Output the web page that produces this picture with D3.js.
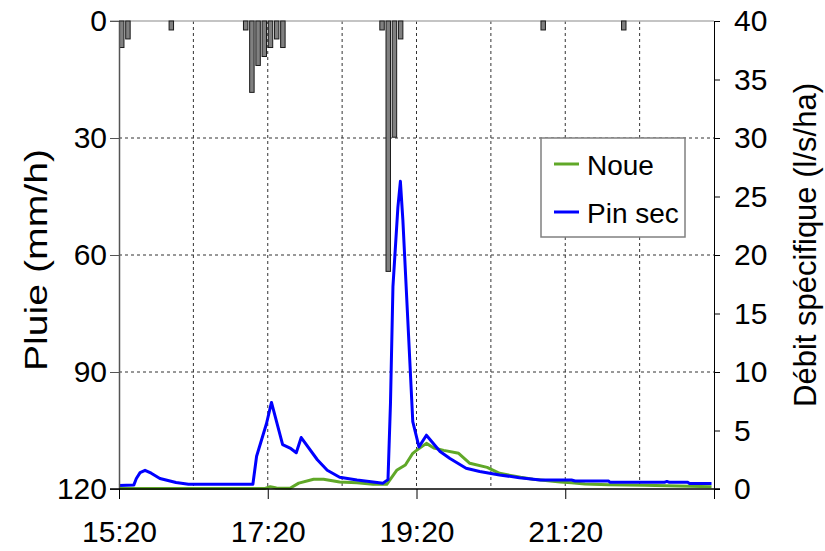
<!DOCTYPE html>
<html>
<head>
<meta charset="utf-8">
<script src="https://cdn.jsdelivr.net/npm/d3@7"></script>
<style>
body { margin: 0; background: #fff; }
text { font-family: "Liberation Sans", Arial, sans-serif; fill: #000; }
</style>
</head>
<body>
<div id="chart"></div>
<script>
// rain, 5 min bins (mm/h)
const rainTimes = ["15:20","15:25","16:00","17:00","17:05","17:10","17:15","17:20","17:25","17:30","18:50","18:55","19:00","19:05","21:00","22:05"];
const rainValues = [6.8,4.6,2.3,2.3,18.3,11.4,9.1,6.8,4.6,6.8,2.3,64.2,29.8,4.6,2.3,2.3];

// specific discharge (l/s/ha)
const noueTimes = ["15:20","17:18","17:22","17:27","17:38","17:45","17:57","18:05","18:18","18:32","18:45","18:56","19:00","19:04","19:11","19:17","19:20","19:28","19:34","19:42","19:54","20:03","20:17","20:27","20:44","20:54","21:16","21:25","21:36","21:55","22:24","23:18"];
const noueValues = [0.05,0.05,0.2,0.08,0.06,0.5,0.83,0.83,0.6,0.54,0.4,0.4,1.0,1.6,2.05,3.05,3.3,3.9,3.5,3.3,3.05,2.2,1.85,1.34,1.0,0.83,0.6,0.54,0.43,0.37,0.32,0.2];

const pinTimes = ["15:20","15:32","15:34","15:37","15:41","15:46","15:53","16:06","16:16","17:08","17:11","17:19","17:23","17:32","17:38","17:43","17:47","18:00","18:08","18:18","18:32","18:45","18:53","18:57","18:59","19:01","19:05","19:07","19:09","19:13","19:17","19:22","19:28","19:39","19:47","20:00","20:11","20:27","20:43","21:00","21:25","21:28","21:55","21:56","22:40","22:42","22:44","22:59","23:00","23:18"];
const pinValues = [0.3,0.35,0.9,1.4,1.6,1.35,0.9,0.55,0.4,0.4,2.8,5.6,7.4,3.8,3.5,3.1,4.4,2.5,1.6,1.0,0.77,0.6,0.5,0.8,7.3,17.3,24.1,26.3,23,14.4,5.75,3.6,4.6,3.2,2.6,1.77,1.5,1.2,0.97,0.77,0.77,0.68,0.68,0.57,0.57,0.65,0.57,0.57,0.48,0.48];

const xTicks = ["15:20","17:20","19:20","21:20","23:20"];
const xTickLabels = ["15:20","17:20","19:20","21:20",""];
const gridHours = ["16:20","17:20","18:20","19:20","20:20","21:20","22:20"];
const rainTicks = [0,30,60,90,120];
const flowTicks = [0,5,10,15,20,25,30,35,40];
const seriesNames = ["Noue","Pin sec"];
const seriesColors = ["#60a828","#0000ff"];

const parse = d3.timeParse("%H:%M");

let svg = d3.select("#chart").append("svg").attr("width", 825).attr("height", 551);

let x = d3.scaleTime().domain([parse("15:20"), parse("23:20")]).range([119, 714]);
let yRain = d3.scaleLinear().domain([0, 120]).range([21, 489]);
let yFlow = d3.scaleLinear().domain([0, 40]).range([489, 21]);

// grid
svg.append("g").selectAll("line").data(gridHours).join("line")
    .attr("x1", d => x(parse(d))).attr("x2", d => x(parse(d)))
    .attr("y1", yRain(0)).attr("y2", yRain(120))
    .style("stroke", "#333").style("stroke-width", 1).style("stroke-dasharray", "3,3");
svg.append("g").selectAll("line").data([30, 60, 90]).join("line")
    .attr("x1", x.range()[0]).attr("x2", x.range()[1])
    .attr("y1", d => yRain(d)).attr("y2", d => yRain(d))
    .style("stroke", "#333").style("stroke-width", 1).style("stroke-dasharray", "3,3");

// top border
svg.append("line").attr("x1", 110).attr("x2", 714).attr("y1", yRain(0)).attr("y2", yRain(0))
    .style("stroke", "#b0b0b0").style("stroke-width", 1.5);

// rain bars
let rain = rainTimes.map((t, i) => [parse(t), rainValues[i]]);
svg.append("g").selectAll("rect").data(rain).join("rect")
    .attr("x", d => x(d[0]) + 0.5)
    .attr("y", yRain(0))
    .attr("width", d => (x(d3.timeMinute.offset(d[0], 5)) - x(d[0])) * 0.72)
    .attr("height", d => yRain(d[1]) - yRain(0))
    .style("fill", "#808080").style("stroke", "#1a1a1a").style("stroke-width", 1);

// flow lines
let line = d3.line().x(d => x(d[0])).y(d => yFlow(d[1]));
let noue = noueTimes.map((t, i) => [parse(t), noueValues[i]]);
let pin = pinTimes.map((t, i) => [parse(t), pinValues[i]]);
[noue, pin].forEach((s, i) => {
    svg.append("path").datum(s)
        .style("fill", "none")
        .style("stroke", seriesColors[i])
        .style("stroke-width", 3)
        .style("stroke-linejoin", "round")
        .attr("d", line);
});

// axes
let leftAxis = d3.axisLeft(yRain).tickValues(rainTicks).tickSize(9).tickSizeOuter(0).tickPadding(4);
let gl = svg.append("g").attr("transform", "translate(119,0)").call(leftAxis);
gl.select(".domain").style("stroke", "#555").style("stroke-width", 1.5);
gl.selectAll(".tick line").style("stroke", "#555");

let rightAxis = d3.axisRight(yFlow).tickValues(flowTicks).tickSize(6).tickSizeOuter(0).tickPadding(14);
let gr = svg.append("g").attr("transform", "translate(714,0)").call(rightAxis);

let bottomAxis = d3.axisBottom(x).tickValues(xTicks.map(parse))
    .tickFormat((d, i) => xTickLabels[i]).tickSize(10).tickSizeOuter(0).tickPadding(22);
let gb = svg.append("g").attr("transform", "translate(0,489)").call(bottomAxis);
gb.select(".domain").attr("d", "M110,0H720").style("stroke-width", 1.5);

svg.selectAll(".tick text").style("font-size", "30px").style("font-family", "'Liberation Sans', Arial, sans-serif");
gl.selectAll(".tick text").attr("x", -12);

// axis titles
svg.append("text").attr("transform", "translate(47,260) rotate(-90)")
    .attr("text-anchor", "middle").style("font-size", "31px")
    .attr("textLength", 222).attr("lengthAdjust", "spacingAndGlyphs").text("Pluie (mm/h)");
svg.append("text").attr("transform", "translate(816,245) rotate(-90)")
    .attr("text-anchor", "middle").style("font-size", "31px").text("Débit spécifique (l/s/ha)");

// legend
let lg = svg.append("g").attr("transform", "translate(541,138)");
lg.append("rect").attr("width", 144).attr("height", 99)
    .style("fill", "#fff").style("stroke", "#808080").style("stroke-width", 1.5);
seriesNames.forEach((n, i) => {
    let yy = 26 + i * 48;
    lg.append("line").attr("x1", 13).attr("x2", 38).attr("y1", yy).attr("y2", yy)
        .style("stroke", seriesColors[i]).style("stroke-width", 3);
    lg.append("text").attr("x", 46).attr("y", yy + 11).style("font-size", "28px").text(n);
});
</script>
</body>
</html>
